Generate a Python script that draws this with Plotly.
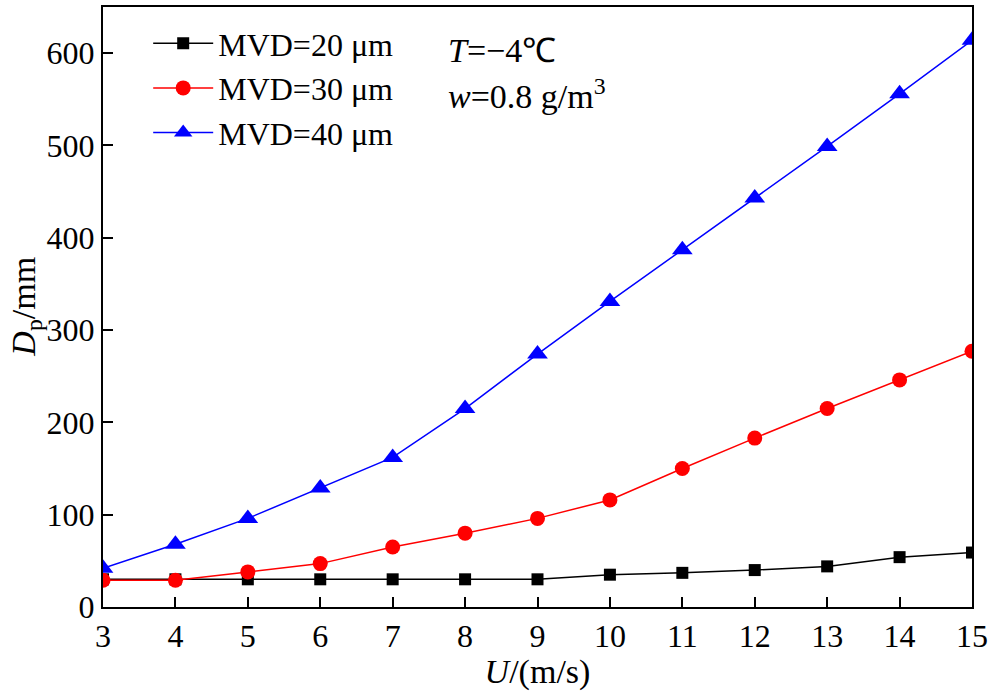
import plotly.graph_objects as go

U = [3, 4, 5, 6, 7, 8, 9, 10, 11, 12, 13, 14, 15]
mvd20 = [30, 30, 30, 30, 30, 30, 30, 35, 37, 40, 44, 54, 59]
mvd30 = [29, 29, 38, 47, 65, 80, 96, 116, 150, 183, 215, 246, 277]
mvd40 = [42, 68, 96, 129, 162, 215, 274, 331, 387, 443, 499, 556, 614]
names = ["MVD=20 μm", "MVD=30 μm", "MVD=40 μm"]

FONT = "Liberation Serif"
fig = go.Figure()
fig.add_trace(go.Scatter(x=U, y=mvd20, name=names[0], mode="lines+markers",
                         line=dict(color="black", width=1.5),
                         marker=dict(symbol="square", size=12, color="black")))
fig.add_trace(go.Scatter(x=U, y=mvd30, name=names[1], mode="lines+markers",
                         line=dict(color="#ff0000", width=1.5),
                         marker=dict(symbol="circle", size=15, color="#ff0000")))
fig.add_trace(go.Scatter(x=U, y=mvd40, name=names[2], mode="lines+markers",
                         line=dict(color="#0000ff", width=1.5),
                         marker=dict(symbol="triangle-up", size=18, color="#0000ff")))

axis_common = dict(showgrid=False, zeroline=False, showline=True, linecolor="black",
                   linewidth=2, mirror=True, ticks="inside", ticklen=10, tickwidth=1.5,
                   tickcolor="black", tickfont=dict(family=FONT, size=32, color="black"))
fig.update_xaxes(range=[3, 15], tickvals=U, **axis_common,
                 title=dict(text="<i>U</i>/(m/s)", font=dict(family=FONT, size=34, color="black"), standoff=4))
fig.update_yaxes(range=[0, 650], tickvals=[0, 100, 200, 300, 400, 500, 600], **axis_common)

fig.add_annotation(x=-0.089, y=0.5, xref="paper", yref="paper", xanchor="center", yanchor="middle",
                   textangle=-90, text="<i>D</i><sub>p</sub>/mm", showarrow=False,
                   font=dict(family=FONT, size=34, color="black"))
fig.add_annotation(x=0.395, y=0.927, xref="paper", yref="paper", xanchor="left", yanchor="middle",
                   text="<i>T</i>=−4℃", showarrow=False, font=dict(family=FONT, size=34, color="black"))
fig.add_annotation(x=0.395, y=0.855, xref="paper", yref="paper", xanchor="left", yanchor="middle",
                   text="<i>w</i>=0.8 g/m<sup>3</sup>", showarrow=False, font=dict(family=FONT, size=34, color="black"))

fig.update_layout(width=993, height=691, margin=dict(l=103, r=17, t=5, b=84),
                  paper_bgcolor="white", plot_bgcolor="white",
                  legend=dict(x=0.052, y=0.985, xanchor="left", yanchor="top", bgcolor="rgba(0,0,0,0)",
                              font=dict(family=FONT, size=32, color="black"), itemwidth=60,
                              tracegroupgap=0),
                  showlegend=True)
fig.write_html("out.html")
